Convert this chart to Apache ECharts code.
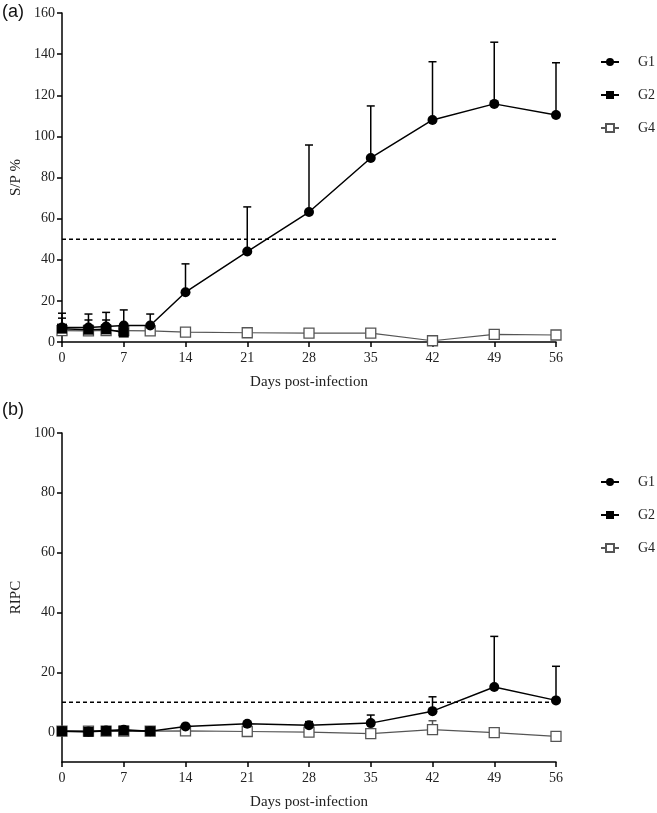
<!DOCTYPE html>
<html>
<head>
<meta charset="utf-8">
<script src="https://cdn.jsdelivr.net/npm/echarts@6/dist/echarts.min.js"></script>
<style>html,body{margin:0;padding:0;background:#fff}#c{width:657px;height:813px}</style>
</head>
<body>
<div id="c"></div>
<script>
// ---- data ----
const days = [0, 3, 5, 7, 10, 14, 21, 28, 35, 42, 49, 56];
const daysG2 = [0, 3, 5, 7];
const daysG2b = [0, 3, 5, 7, 10];
const xTicks = [0, 7, 14, 21, 28, 35, 42, 49, 56];

// Panel (a) S/P %
const aG1 = [7, 7, 7.5, 8, 8, 24.2, 44, 63.2, 89.5, 108, 115.8, 110.4];
const aG1Sd = [7, 6.6, 6.9, 7.6, 5.6, 13.8, 21.7, 32.6, 25.3, 28.3, 30, 25.4];
const aG2 = [6.5, 6, 6.2, 4.6];
const aG2Sd = [5.1, 4.7, 4.5, 0];
const aG4 = [5.5, 5.4, 5.6, 5.5, 5.4, 4.8, 4.5, 4.3, 4.3, 0.6, 3.7, 3.4];
const aG4Sd = [0, 0, 0, 0, 0, 0, 0, 0, 0, 0, 0, 0];
const aCutoff = 50;

// Panel (b) RIPC
const bG1 = [0.3, 0.2, 0.5, 0.8, 0.3, 1.9, 2.8, 2.3, 3.0, 7.0, 15.1, 10.6];
const bG1Sd = [0, 0, 0, 0, 0, 0, 0, 1.2, 2.7, 4.8, 16.9, 11.4];
const bG2 = [0.3, 0.1, 0.4, 0.5, 0.3];
const bG4 = [0.3, 0.3, 0.3, 0.3, 0.3, 0.4, 0.2, 0, -0.5, 0.8, -0.2, -1.4];
const bG4Sd = [0, 0, 0, 0, 0, 0, 0, 0, 0, 3.0, 0, 0];
const bCutoff = 10;
const bYTicks = [0, 20, 40, 60, 80, 100];

const FONT = '"Liberation Serif", "Times New Roman", serif';

function pts(xs, ys) { return xs.map((x, i) => [x, ys[i]]); }
function errData(xs, ys, sd) { return xs.map((x, i) => [x, ys[i], sd[i]]); }

function errSeries(idx, xs, ys, sd, color) {
  return {
    type: 'custom', xAxisIndex: idx, yAxisIndex: idx, z: 1, silent: true,
    data: errData(xs, ys, sd),
    renderItem: function (params, api) {
      const s = api.value(2);
      if (!s) return null;
      const p0 = api.coord([api.value(0), api.value(1)]);
      const p1 = api.coord([api.value(0), api.value(1) + s]);
      const st = { stroke: color, lineWidth: 1.5 };
      return { type: 'group', children: [
        { type: 'line', shape: { x1: p0[0], y1: p0[1], x2: p1[0], y2: p1[1] }, style: st },
        { type: 'line', shape: { x1: p1[0] - 4, y1: p1[1], x2: p1[0] + 4, y2: p1[1] }, style: st }
      ]};
    }
  };
}

function g1(idx, data) {
  return { name: 'G1', type: 'line', xAxisIndex: idx, yAxisIndex: idx, data: data, z: 4,
    symbol: 'circle', symbolSize: 10, lineStyle: { color: '#000', width: 1.5 },
    itemStyle: { color: '#000' }, animation: false };
}
function g2(idx, data) {
  return { name: 'G2', type: 'line', xAxisIndex: idx, yAxisIndex: idx, data: data, z: 3,
    symbol: 'rect', symbolSize: 10, lineStyle: { color: '#000', width: 1.5 },
    itemStyle: { color: '#000' }, animation: false };
}
function g4(idx, data) {
  return { name: 'G4', type: 'line', xAxisIndex: idx, yAxisIndex: idx, data: data, z: 2,
    symbol: 'rect', symbolSize: 10, lineStyle: { color: '#555', width: 1.2 },
    itemStyle: { color: '#fff', borderColor: '#555', borderWidth: 1.3 }, animation: false };
}
function cutoff(idx, v) {
  return { type: 'line', xAxisIndex: idx, yAxisIndex: idx, data: [[0, v], [56, v]],
    symbol: 'none', lineStyle: { color: '#000', width: 1.5, type: [4, 3] }, silent: true, z: 1, animation: false };
}

const axisCommon = {
  axisLine: { lineStyle: { color: '#000', width: 1.5 } },
  axisTick: { show: true, inside: false, length: 5, lineStyle: { color: '#000', width: 1.5 } },
  axisLabel: { color: '#222', fontFamily: FONT, fontSize: 14 },
  splitLine: { show: false }
};

function xAxis(idx) {
  return Object.assign({}, JSON.parse(JSON.stringify(axisCommon)), {
    type: 'value', gridIndex: idx, min: 0, max: 56, interval: 7,
    name: 'Days post-infection', nameLocation: 'middle', nameGap: 33,
    nameTextStyle: { fontFamily: FONT, fontSize: 15, color: '#222' },
    axisLine: { onZero: false, lineStyle: { color: '#000', width: 1.5 } },
    axisLabel: { color: '#222', fontFamily: FONT, fontSize: 14, margin: 9, customValues: xTicks },
    axisTick: { show: true, length: 5, lineStyle: { color: '#000', width: 1.5 }, customValues: xTicks }
  });
}

const legendCommon = {
  orient: 'vertical', left: 600, itemWidth: 18, itemHeight: 10, itemGap: 19, padding: 0,
  textStyle: { fontFamily: FONT, fontSize: 14, color: '#222', padding: [0, 0, 0, 14] },
  data: ['G1', 'G2', 'G4'], selectedMode: false
};

const option = {
  backgroundColor: '#fff',
  animation: false,
  grid: [
    { left: 62, top: 13, width: 494, height: 329, containLabel: false },
    { left: 62, top: 433, width: 494, height: 329, containLabel: false }
  ],
  xAxis: [xAxis(0), xAxis(1)],
  yAxis: [
    Object.assign({}, JSON.parse(JSON.stringify(axisCommon)), {
      type: 'value', gridIndex: 0, min: 0, max: 160, interval: 20,
      name: 'S/P %', nameLocation: 'middle', nameGap: 26, nameRotate: 90,
      nameTextStyle: { fontFamily: FONT, fontSize: 15, color: '#222' },
      axisLabel: { color: '#222', fontFamily: FONT, fontSize: 14, margin: 7 }
    }),
    Object.assign({}, JSON.parse(JSON.stringify(axisCommon)), {
      type: 'value', gridIndex: 1, min: -10, max: 100,
      name: 'RIPC', nameLocation: 'middle', nameGap: 26, nameRotate: 90,
      nameTextStyle: { fontFamily: FONT, fontSize: 15, color: '#222' },
      axisLabel: { color: '#222', fontFamily: FONT, fontSize: 14, margin: 7, customValues: bYTicks },
      axisTick: { show: true, length: 5, lineStyle: { color: '#000', width: 1.5 }, customValues: bYTicks }
    })
  ],
  legend: [
    Object.assign({}, legendCommon, { top: 55 }),
    Object.assign({}, legendCommon, { top: 475 })
  ],
  graphic: [
    { type: 'text', left: 2, top: 3, style: { text: '(a)', font: '18px "Liberation Sans", Arial, sans-serif', fill: '#111' } },
    { type: 'text', left: 2, top: 401, style: { text: '(b)', font: '18px "Liberation Sans", Arial, sans-serif', fill: '#111' } }
  ],
  series: [
    cutoff(0, aCutoff),
    errSeries(0, days, aG4, aG4Sd, '#555'),
    errSeries(0, daysG2, aG2, aG2Sd, '#000'),
    errSeries(0, days, aG1, aG1Sd, '#000'),
    g4(0, pts(days, aG4)),
    g2(0, pts(daysG2, aG2)),
    g1(0, pts(days, aG1)),
    cutoff(1, bCutoff),
    errSeries(1, days, bG4, bG4Sd, '#555'),
    errSeries(1, days, bG1, bG1Sd, '#000'),
    g4(1, pts(days, bG4)),
    g2(1, pts(daysG2b, bG2)),
    g1(1, pts(days, bG1))
  ]
};
const chart = echarts.init(document.getElementById('c'), null, { renderer: 'canvas' });
chart.setOption(option);
</script>
</body>
</html>
